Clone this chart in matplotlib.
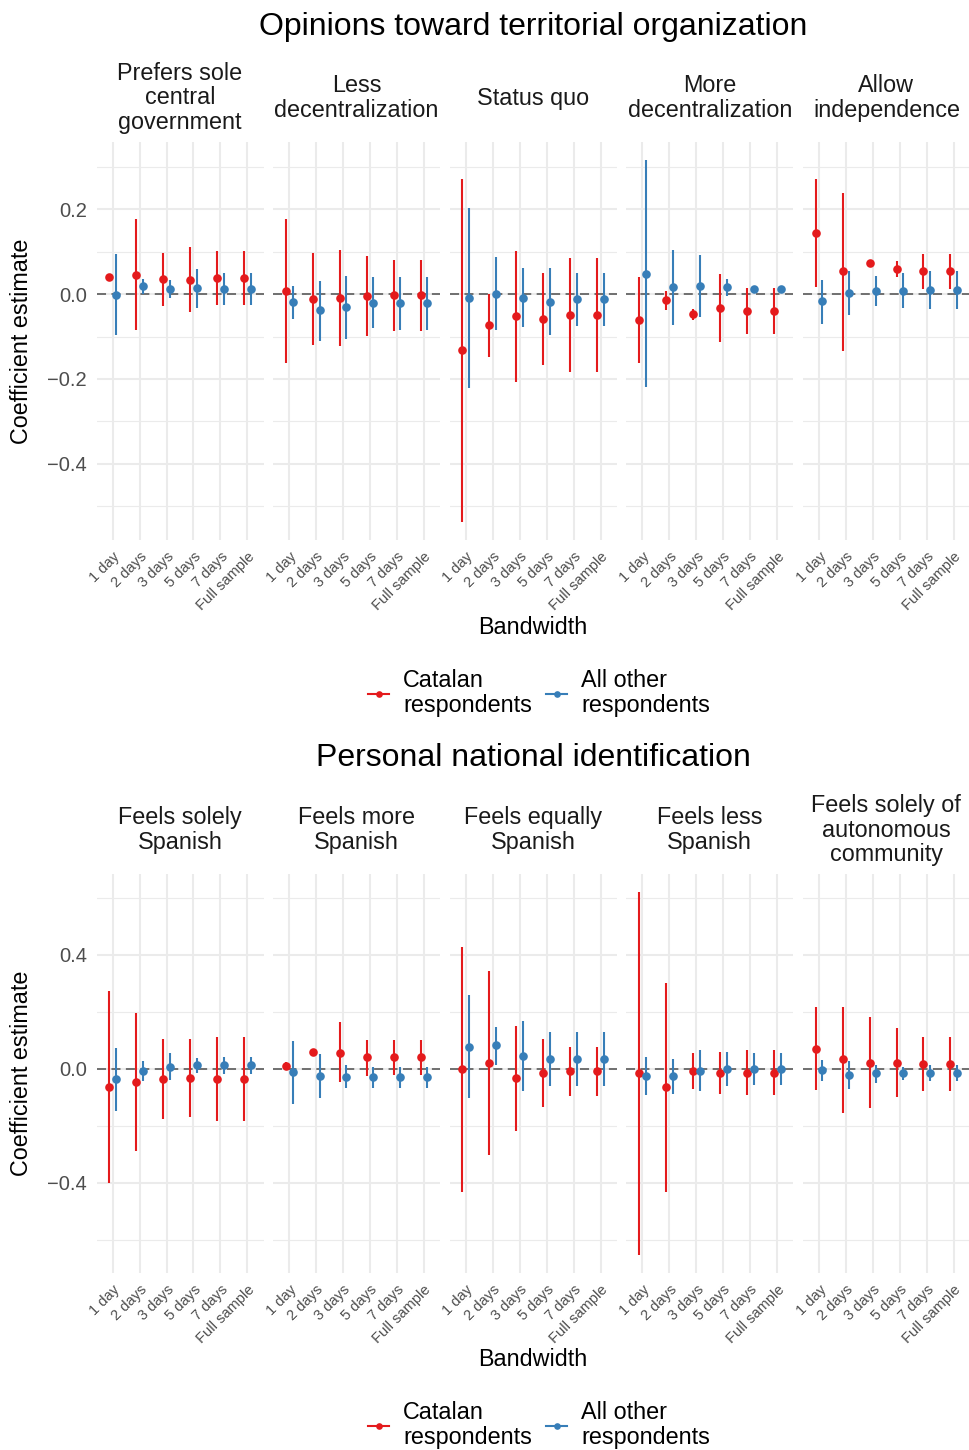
import matplotlib
matplotlib.use("Agg")
import matplotlib.pyplot as plt
from matplotlib.lines import Line2D
from matplotlib.ticker import FixedLocator, FuncFormatter
import numpy as np

plt.rcParams['font.family'] = ['Liberation Sans', 'DejaVu Sans']

# ---------------- data ----------------
bandwidths = ["1 day", "2 days", "3 days", "5 days", "7 days", "Full sample"]
groups = ["Catalan\nrespondents", "All other\nrespondents"]

top_title = "Opinions toward territorial organization"
top_panels = ["Prefers sole\ncentral\ngovernment", "Less\ndecentralization", "Status quo",
              "More\ndecentralization", "Allow\nindependence"]

top_cat_est = [[0.041, 0.045, 0.035, 0.034, 0.038, 0.038],
               [0.008, -0.012, -0.009, -0.005, -0.002, -0.002],
               [-0.132, -0.073, -0.052, -0.058, -0.050, -0.050],
               [-0.060, -0.015, -0.048, -0.032, -0.039, -0.039],
               [0.144, 0.054, 0.073, 0.059, 0.054, 0.054]]
top_cat_lo = [[0.037, -0.085, -0.028, -0.043, -0.025, -0.025],
              [-0.163, -0.120, -0.123, -0.098, -0.087, -0.087],
              [-0.537, -0.148, -0.208, -0.166, -0.184, -0.184],
              [-0.162, -0.038, -0.062, -0.112, -0.093, -0.093],
              [0.016, -0.133, 0.069, 0.041, 0.011, 0.011]]
top_cat_hi = [[0.045, 0.177, 0.098, 0.112, 0.102, 0.102],
              [0.178, 0.097, 0.105, 0.089, 0.081, 0.081],
              [0.272, 0.000, 0.102, 0.050, 0.084, 0.084],
              [0.041, 0.008, -0.036, 0.048, 0.015, 0.015],
              [0.272, 0.239, 0.077, 0.078, 0.095, 0.095]]

top_oth_est = [[-0.002, 0.019, 0.013, 0.014, 0.0125, 0.0125],
               [-0.019, -0.038, -0.030, -0.020, -0.021, -0.022],
               [-0.009, 0.001, -0.008, -0.018, -0.0125, -0.0125],
               [0.048, 0.016, 0.019, 0.016, 0.013, 0.013],
               [-0.017, 0.003, 0.008, 0.008, 0.009, 0.009]]
top_oth_lo = [[-0.097, 0.001, -0.009, -0.032, -0.026, -0.026],
              [-0.058, -0.110, -0.105, -0.080, -0.084, -0.084],
              [-0.222, -0.085, -0.077, -0.097, -0.075, -0.076],
              [-0.220, -0.072, -0.055, -0.005, 0.009, 0.009],
              [-0.070, -0.050, -0.027, -0.033, -0.036, -0.036]]
top_oth_hi = [[0.095, 0.036, 0.034, 0.059, 0.049, 0.049],
              [0.020, 0.032, 0.042, 0.040, 0.040, 0.040],
              [0.202, 0.087, 0.061, 0.061, 0.049, 0.050],
              [0.316, 0.104, 0.092, 0.036, 0.017, 0.017],
              [0.034, 0.055, 0.042, 0.049, 0.054, 0.054]]

bot_title = "Personal national identification"
bot_panels = ["Feels solely\nSpanish", "Feels more\nSpanish", "Feels equally\nSpanish",
              "Feels less\nSpanish", "Feels solely of\nautonomous\ncommunity"]

bot_cat_est = [[-0.064, -0.045, -0.036, -0.031, -0.035, -0.035],
               [0.010, 0.058, 0.057, 0.040, 0.040, 0.040],
               [-0.001, 0.020, -0.034, -0.016, -0.008, -0.008],
               [-0.015, -0.065, -0.008, -0.014, -0.013, -0.013],
               [0.071, 0.033, 0.022, 0.022, 0.016, 0.016]]
bot_cat_lo = [[-0.402, -0.289, -0.177, -0.168, -0.182, -0.182],
              [0.000, 0.052, -0.048, -0.024, -0.021, -0.021],
              [-0.433, -0.304, -0.219, -0.134, -0.094, -0.094],
              [-0.653, -0.433, -0.071, -0.090, -0.092, -0.092],
              [-0.075, -0.154, -0.138, -0.099, -0.079, -0.079]]
bot_cat_hi = [[0.273, 0.197, 0.103, 0.105, 0.112, 0.112],
              [0.023, 0.064, 0.163, 0.101, 0.100, 0.100],
              [0.429, 0.343, 0.150, 0.103, 0.078, 0.078],
              [0.620, 0.302, 0.054, 0.058, 0.065, 0.065],
              [0.218, 0.218, 0.181, 0.142, 0.111, 0.111]]

bot_oth_est = [[-0.036, -0.006, 0.006, 0.013, 0.013, 0.012],
               [-0.012, -0.024, -0.028, -0.030, -0.030, -0.030],
               [0.078, 0.082, 0.045, 0.035, 0.035, 0.035],
               [-0.024, -0.026, -0.007, 0.000, 0.000, 0.000],
               [-0.005, -0.023, -0.016, -0.015, -0.015, -0.015]]
bot_oth_lo = [[-0.147, -0.042, -0.038, -0.015, -0.019, -0.019],
              [-0.122, -0.101, -0.068, -0.066, -0.066, -0.066],
              [-0.104, 0.015, -0.077, -0.062, -0.059, -0.059],
              [-0.092, -0.089, -0.079, -0.059, -0.058, -0.057],
              [-0.042, -0.071, -0.049, -0.041, -0.043, -0.043]]
bot_oth_hi = [[0.072, 0.028, 0.054, 0.038, 0.041, 0.041],
              [0.098, 0.051, 0.012, 0.006, 0.006, 0.006],
              [0.259, 0.147, 0.167, 0.128, 0.128, 0.128],
              [0.043, 0.036, 0.065, 0.058, 0.057, 0.056],
              [0.031, 0.026, 0.014, 0.008, 0.012, 0.012]]

top_major = [-0.4, -0.2, 0.0, 0.2]
top_minor = [-0.5, -0.3, -0.1, 0.1, 0.3]
bot_major = [-0.4, 0.0, 0.4]
bot_minor = [-0.6, -0.2, 0.2, 0.6]

# ---------------- style ----------------
RED = "#E41A1C"
BLUE = "#377EB8"
GRID = "#EBEBEB"
W, H = 969, 1450
DPI = 100

fig = plt.figure(figsize=(W / DPI, H / DPI), dpi=DPI)
fig.patch.set_facecolor("white")

panel_left0 = 96.5
panel_pitch = 176.6
panel_w = 167.0


def fmt(v, pos):
    s = "{:.1f}".format(v)
    if v < 0:
        s = "\u2212" + s[1:]
    return s


def draw_section(title, panels, cest, clo, chi, oest, olo, ohi, major, minor,
                 ytop, ybot, title_y, bw_y, leg_y):
    allv = np.concatenate([np.ravel(clo), np.ravel(chi), np.ravel(olo), np.ravel(ohi)])
    lo, hi = allv.min(), allv.max()
    pad = 0.05 * (hi - lo)
    ylim = (lo - pad, hi + pad)
    x = np.arange(1, len(bandwidths) + 1)
    dodge = 0.125
    for i, name in enumerate(panels):
        left = panel_left0 + i * panel_pitch
        ax = fig.add_axes([left / W, 1 - ybot / H, panel_w / W, (ybot - ytop) / H])
        ax.set_xlim(0.4, len(bandwidths) + 0.6)
        ax.set_ylim(*ylim)
        for s in ax.spines.values():
            s.set_visible(False)
        ax.yaxis.set_major_locator(FixedLocator(major))
        ax.yaxis.set_minor_locator(FixedLocator(minor))
        ax.set_xticks(x)
        ax.grid(True, which="major", color=GRID, lw=1.5)
        ax.grid(True, which="minor", axis="y", color=GRID, lw=0.8)
        ax.set_axisbelow(True)
        ax.tick_params(which="both", length=0)
        ax.tick_params(axis="x", pad=7)
        ax.tick_params(axis="y", pad=7, labelsize=14.5, labelcolor="#4D4D4D")
        ax.set_xticklabels(bandwidths, rotation=45, ha="right", va="top",
                           rotation_mode="anchor", fontsize=10.5, color="#4D4D4D")
        if i == 0:
            ax.yaxis.set_major_formatter(FuncFormatter(fmt))
        else:
            ax.set_yticklabels([])
        ax.axhline(0, color="#666666", lw=1.3, ls=(0, (5, 3)), zorder=1.5)
        ax.vlines(x - dodge, clo[i], chi[i], color=RED, lw=1.5, zorder=3)
        ax.plot(x - dodge, cest[i], "o", color=RED, ms=6.2, mew=0, zorder=4)
        ax.vlines(x + dodge, olo[i], ohi[i], color=BLUE, lw=1.5, zorder=3)
        ax.plot(x + dodge, oest[i], "o", color=BLUE, ms=6.2, mew=0, zorder=4)
        ax.text(0.5, 1 + 44.0 / (ybot - ytop), name, transform=ax.transAxes,
                ha="center", va="center", fontsize=16.8, color="#1A1A1A",
                linespacing=1.1)
    fig.text(533 / W, 1 - title_y / H, title, ha="center", va="center",
             fontsize=23, color="black")
    fig.text(533 / W, 1 - bw_y / H, "Bandwidth", ha="center", va="center",
             fontsize=16.8, color="black")
    fig.text(22 / W, 1 - ((ytop + ybot) / 2) / H, "Coefficient estimate",
             ha="center", va="center", rotation=90, fontsize=16.8, color="black")
    handles = [Line2D([], [], color=RED, lw=1.5, marker="o", ms=4.8, mew=0),
               Line2D([], [], color=BLUE, lw=1.5, marker="o", ms=4.8, mew=0)]
    leg = fig.legend(handles, groups, loc="center", ncol=2,
                     bbox_to_anchor=(539 / W, 1 - leg_y / H), frameon=False,
                     fontsize=16.8, handlelength=0.9, handletextpad=0.6,
                     columnspacing=0.6, borderpad=0)
    for t in leg.get_texts():
        t.set_linespacing(1.1)


draw_section(top_title, top_panels, top_cat_est, top_cat_lo, top_cat_hi,
             top_oth_est, top_oth_lo, top_oth_hi, top_major, top_minor,
             142, 540, 27, 627, 693)
draw_section(bot_title, bot_panels, bot_cat_est, bot_cat_lo, bot_cat_hi,
             bot_oth_est, bot_oth_lo, bot_oth_hi, bot_major, bot_minor,
             874, 1273, 758, 1360, 1425)

fig.savefig("out.png", dpi=DPI, facecolor="white")
